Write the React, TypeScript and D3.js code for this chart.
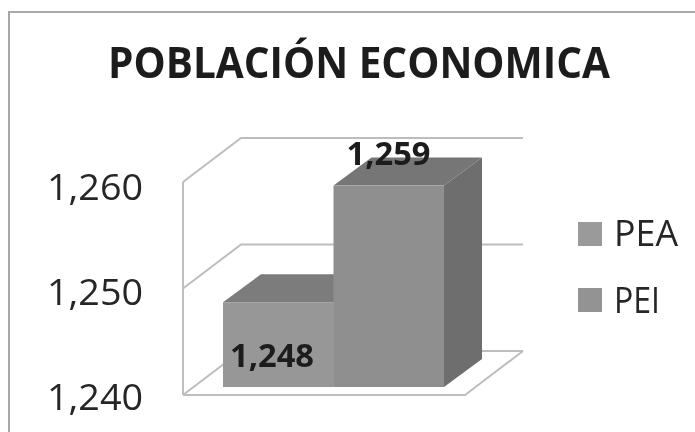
import React from "react";
import * as d3 from "d3";

const title = "POBLACIÓN ECONOMICA";
const categories = ["PEA", "PEI"];
const values = [1248, 1259];
const valueLabels = ["1,248", "1,259"];
const axisTicks = [1240, 1250, 1260];
const legendWidths = [64, 46];
const barFront = ["#979797", "#8f8f8f"];
const barTop = ["#7c7c7c", "#767676"];
const barSide = ["#6e6e6e", "#6e6e6e"];

const W = 695;
const H = 432;
const font = "'Open Sans', 'Noto Sans', sans-serif";

// perspectiva del suelo y de las barras
const wall = { dx: 58, dy: -44 };
const depth = { dx: 38, dy: -28 };
const floorLeft = 183;
const floorRight = 465;
const gridRight = 523;

const y = d3.scaleLinear().domain([1240, 1260]).range([395, 182]);
const barY = d3.scaleLinear().domain([1240, 1260]).range([387, 175]);
const labelY = d3.scaleLinear().domain([1240, 1260]).range([410, 200]);
const x = d3.scaleBand().domain(categories).range([223, 444]);
const fmt = d3.format(",");
const pts = (p: number[][]) => p.map((d) => d.join(",")).join(" ");

export default function App() {
  const base = barY(1240);
  return (
    <svg
      width={W}
      height={H}
      viewBox={`0 0 ${W} ${H}`}
      style={{ position: "absolute", left: 0, top: 0, background: "#fff" }}
    >
      <defs>
        <filter id="soft" x="-5%" y="-5%" width="110%" height="110%">
          <feGaussianBlur stdDeviation="0.45" />
        </filter>
      </defs>
      <g filter="url(#soft)">
        {/* marco */}
        <path d={`M9,${H} V12 H${W}`} fill="none" stroke="#a8a8a8" strokeWidth={2} />

        <text
          x={359}
          y={78}
          textAnchor="middle"
          fontFamily={font}
          fontWeight={700}
          fontSize={43}
          fill="#1c1c1c"
          textLength={502}
          lengthAdjust="spacingAndGlyphs"
        >
          {title}
        </text>

        {/* paredes y rejilla */}
        <g fill="none" stroke="#bdbdbd" strokeWidth={2}>
          <path d={`M${floorLeft},${y(1240)} V${y(1260)}`} />
          {axisTicks.map((t) => (
            <polyline
              key={t}
              points={pts([
                [floorLeft, y(t)],
                [floorLeft + wall.dx, y(t) + wall.dy],
                [gridRight, y(t) + wall.dy],
              ])}
            />
          ))}
          <polyline
            points={pts([
              [floorLeft, y(1240)],
              [floorRight, y(1240)],
              [gridRight, y(1240) + wall.dy],
            ])}
          />
        </g>

        {axisTicks.map((t) => (
          <text
            key={t}
            x={143}
            y={labelY(t)}
            textAnchor="end"
            fontFamily={font}
            fontSize={36}
            fill="#262626"
            textLength={96}
            lengthAdjust="spacingAndGlyphs"
          >
            {fmt(t)}
          </text>
        ))}

        {/* barras 3D */}
        {categories.map((c, i) => {
          const x0 = x(c) as number;
          const x1 = x0 + x.bandwidth();
          const top = barY(values[i]);
          return (
            <g key={c}>
              <polygon
                fill={barTop[i]}
                points={pts([
                  [x0, top],
                  [x0 + depth.dx, top + depth.dy],
                  [x1 + depth.dx, top + depth.dy],
                  [x1, top],
                ])}
              />
              <polygon
                fill={barSide[i]}
                points={pts([
                  [x1, top],
                  [x1 + depth.dx, top + depth.dy],
                  [x1 + depth.dx, base + depth.dy],
                  [x1, base],
                ])}
              />
              <rect x={x0} y={top} width={x.bandwidth()} height={base - top} fill={barFront[i]} />
            </g>
          );
        })}

        {categories.map((c, i) => (
          <text
            key={c}
            x={(x(c) as number) + (i === 0 ? 49 : 55)}
            y={i === 0 ? 367 : 165}
            textAnchor="middle"
            fontFamily={font}
            fontWeight={700}
            fontSize={32}
            fill="#1c1c1c"
            textLength={84}
            lengthAdjust="spacingAndGlyphs"
          >
            {valueLabels[i]}
          </text>
        ))}

        {/* leyenda */}
        {categories.map((c, i) => (
          <g key={c} transform={`translate(578,${222 + i * 66})`}>
            <rect width={24} height={24} fill={i === 0 ? "#9a9a9a" : "#939393"} />
            <text
              x={36}
              y={24 + i}
              fontFamily={font}
              fontSize={36}
              fill="#262626"
              textLength={legendWidths[i]}
              lengthAdjust="spacingAndGlyphs"
            >
              {c}
            </text>
          </g>
        ))}
      </g>
    </svg>
  );
}
